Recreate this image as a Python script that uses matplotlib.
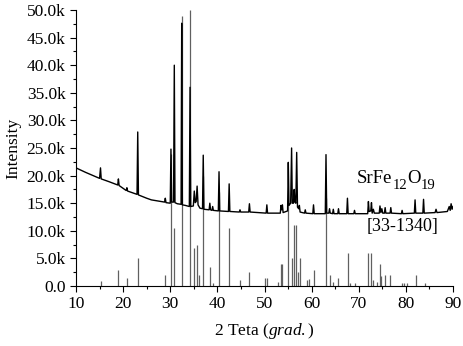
import matplotlib
matplotlib.use("Agg")
import matplotlib.pyplot as plt
from matplotlib.ticker import FuncFormatter, MultipleLocator

plt.rcParams['font.family'] = ['Liberation Serif', 'DejaVu Serif']
plt.rcParams['mathtext.fontset'] = 'custom'
plt.rcParams['mathtext.rm'] = 'Liberation Serif'
plt.rcParams['mathtext.it'] = 'Liberation Serif:italic'

# measured XRD pattern (2theta, intensity in counts)
meas_x = [10.0, 12.0, 15.0, 15.2, 15.35, 17.0, 18.85, 19.0, 19.15, 20.65, 20.8, 20.95,
          22.95, 23.1, 23.25, 25.0, 26.0, 28.0, 28.8, 28.95, 29.1, 30.0, 30.15, 30.3,
          30.7, 30.86, 31.0, 31.5, 32.3, 32.43, 32.57, 33.2, 34.05, 34.2, 34.35, 34.9,
          35.1, 35.3, 35.5, 35.7, 35.9, 36.3, 36.85, 37.0, 37.15, 38.25, 38.4, 38.55,
          38.85, 39.0, 39.15, 40.2, 40.35, 40.5, 42.35, 42.5, 42.65, 44.65, 44.8, 44.95,
          46.65, 46.8, 46.95, 50.35, 50.5, 50.65, 53.35, 53.5, 53.65, 53.8, 53.95, 54.9,
          55.05, 55.2, 55.55, 55.75, 55.9, 56.15, 56.3, 56.45, 56.65, 56.83, 57.0, 57.25,
          57.4, 57.55, 58.5, 58.65, 58.8, 60.25, 60.4, 60.55, 62.9, 63.05, 63.2, 63.65,
          63.8, 63.95, 64.45, 64.6, 64.75, 65.55, 65.7, 65.85, 67.45, 67.6, 67.75, 68.95,
          69.1, 69.25, 71.9, 72.05, 72.2, 72.55, 72.7, 72.85, 73.1, 73.3, 74.35, 74.5,
          74.7, 74.9, 75.1, 75.45, 75.6, 75.75, 76.65, 76.8, 76.95, 79.05, 79.2, 79.35,
          81.8, 81.95, 82.1, 83.6, 83.75, 83.9, 86.2, 86.4, 86.6, 88.8, 89.2, 89.4,
          89.6, 89.8, 90.0]
meas_y = [21400, 20600, 19500, 21400, 19400, 18900, 18300, 19400, 18200, 17300, 17800, 17200,
          16600, 27900, 16500, 15900, 15600, 15300, 15200, 15900, 15100, 15000, 24800, 15200,
          15200, 40000, 15100, 14900, 14800, 47600, 14700, 14600, 14400, 36000, 14400, 14500,
          17200, 15100, 15300, 18100, 14700, 14100, 14000, 23700, 13900, 13800, 15000, 13800,
          13700, 14400, 13700, 13600, 20700, 13600, 13500, 18500, 13500, 13400, 13800, 13400,
          13400, 14900, 13400, 13200, 14700, 13200, 13200, 14600, 13800, 14700, 13300, 13600,
          22400, 14600, 15000, 25000, 15000, 15000, 17500, 15200, 15000, 24200, 14300, 14000,
          14600, 13400, 13200, 13800, 13200, 13100, 14700, 13100, 13100, 23800, 13200, 13200,
          14000, 13200, 13100, 13900, 13100, 13100, 14000, 13100, 13100, 15900, 13100, 13100,
          13700, 13100, 13100, 15300, 13500, 13600, 15100, 13200, 13900, 13200, 13200, 14500,
          13300, 14000, 13200, 13200, 14200, 13200, 13200, 14200, 13200, 13100, 13700, 13100,
          13200, 15600, 13200, 13200, 15700, 13200, 13300, 13900, 13300, 13500, 14400, 13700,
          14900, 13900, 14400]

# reference pattern [33-1340] (2theta, intensity)
ref_x = [15.2, 19.0, 20.8, 23.1, 28.95, 30.15, 30.86, 32.43, 34.2, 35.1, 35.7, 36.0,
         37.0, 38.4, 39.0, 40.35, 42.5, 44.8, 46.8, 50.2, 50.6, 52.9, 53.5, 53.8,
         55.05, 55.8, 56.3, 56.6, 57.2, 57.5, 59.0, 59.5, 60.4, 63.1, 63.9, 64.6,
         65.7, 67.7, 68.1, 69.1, 72.0, 72.7, 73.1, 73.9, 74.5, 74.7, 75.6, 76.6,
         79.1, 79.6, 80.2, 82.1, 84.1]
ref_y = [900, 2900, 1400, 5000, 2000, 24000, 10500, 49000, 50000, 6900, 7400, 2000,
         20000, 3500, 500, 17000, 10500, 1000, 2500, 1400, 1400, 800, 4000, 4000,
         15000, 5100, 11000, 11000, 2500, 5100, 1000, 1200, 2900, 16000, 2000, 800,
         1400, 6000, 500, 500, 6000, 6000, 1000, 800, 4000, 1900, 2000, 2000,
         500, 500, 500, 2000, 500]

# phase label pieces: (text, is_subscript)
phase_parts = [('SrFe', False), ('12', True), ('O', False), ('19', True)]
card_label = '[33-1340]'

W, H = 463, 346
fig = plt.figure(figsize=(W / 100, H / 100), dpi=100)
ax = fig.add_axes([76 / W, 1 - 286 / H, (453 - 76) / W, 276 / H])

ax.vlines(ref_x, 0, ref_y, colors='#606060', linewidth=0.9, zorder=2)
ax.plot(meas_x, meas_y, color='black', linewidth=1.0, zorder=3)

ax.set_xlim(10, 90)
ax.set_ylim(0, 50000)
for s in ['top', 'right']:
    ax.spines[s].set_visible(False)
ax.xaxis.set_major_locator(MultipleLocator(10))
ax.xaxis.set_minor_locator(MultipleLocator(5))
ax.yaxis.set_major_locator(MultipleLocator(5000))
ax.yaxis.set_minor_locator(MultipleLocator(2500))
ax.yaxis.set_major_formatter(FuncFormatter(lambda v, p: '0.0' if v == 0 else f'{v/1000:.1f}k'))
ax.tick_params(which='major', length=4, width=0.8, labelsize=12.5, direction='out')
ax.tick_params(which='minor', length=2.5, width=0.8, direction='out')

ax.set_xlabel('2 Teta ($\\mathit{grad.}$)', fontsize=12.5, labelpad=6)
ax.set_ylabel('Intensity', fontsize=12.5, labelpad=4)

# phase label built piecewise so subscripts are large and low like the original
fig.canvas.draw()
renderer = fig.canvas.get_renderer()
xpix = 357.0
for txt, sub in phase_parts:
    fs = 10.5 if sub else 13.5
    ypix = 189.0 if sub else 183.0
    t = fig.text(xpix / W, 1 - ypix / H, txt, fontsize=fs, va='baseline')
    bb = t.get_window_extent(renderer=renderer)
    xpix += bb.width

fig.text(367 / W, 1 - 231 / H, card_label, fontsize=13, va='baseline')

fig.savefig('out.png', dpi=100)
